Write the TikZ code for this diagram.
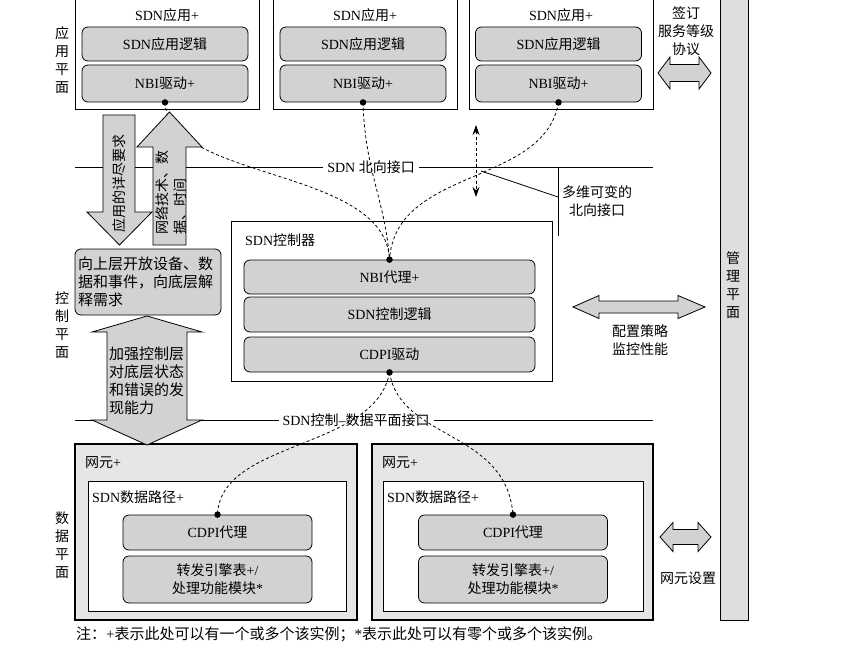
\documentclass[tikz,border=0pt]{standalone}
\usepackage{fontspec}
\setmainfont{Liberation Serif}
\newfontfamily\cjk{Noto Sans CJK SC}
\newcommand\zh[1]{{\cjk #1}}
\usetikzlibrary{arrows.meta}
\definecolor{boxgray}{HTML}{D2D2D2}
\definecolor{negray}{HTML}{E6E6E6}
\definecolor{bargray}{HTML}{DEDEDE}
\tikzset{
 ln/.style={line width=0.8pt},
 outbox/.style={draw, fill=white, line width=0.8pt, inner sep=0pt},
 inbox/.style={draw, fill=boxgray, rounded corners=6pt, line width=0.8pt, inner sep=2pt},
 nebox/.style={draw, fill=negray, line width=1.3pt, inner sep=0pt},
 bigarrow/.style={draw, fill=boxgray, line width=0.8pt, line join=miter},
 conn/.style={line width=0.8pt, dash pattern=on 3pt off 2.5pt},
 dotn/.style={circle, fill=black, inner sep=0pt, minimum size=6.5pt},
 zhf/.style={font=\cjk\fontsize{14}{18}\selectfont},
 zhg/.style={font=\cjk\fontsize{15}{18}\selectfont},
 lab/.style={fill=white, inner sep=4pt},
}
\begin{document}
\begin{tikzpicture}[x=1pt,y=-1pt, every node/.style={font=\fontsize{14}{17}\selectfont}]
\useasboundingbox (0,0) rectangle (853,650);

% interface lines
\coordinate (nl) at (75,167); \coordinate (nr) at (653,167);
\draw[ln] (nl) -- (nr);
\node[lab] (nlab) at (371,167) {SDN \zh{北向接口}};
\coordinate (sl) at (75,420); \coordinate (sr) at (653,420);
\draw[ln] (sl) -- (sr);
\node[lab] (slab) at (356,420) {SDN\zh{控制}--\zh{数据平面接口}};

% multi-dimensional NBI annotation
\coordinate (v1) at (558,167); \coordinate (v2) at (558,236);
\draw[ln] (v1) -- (v2);
\coordinate (s1) at (481,171); \coordinate (s2) at (558,197);
\draw[ln] (s1) -- (s2);
\node[zhf, align=center] (mv) at (597,201) {多维可变的\\北向接口};

% plane labels
\node[zhf, align=center] (pla) at (62,60) {应\\用\\平\\面};
\node[zhf, align=center] (plc) at (62,325) {控\\制\\平\\面};
\node[zhf, align=center] (pld) at (62,545) {数\\据\\平\\面};

% application boxes
\foreach \i/\xo/\xi in {1/167/165,2/365/363,3/561/558.5}{
  \node[outbox, minimum width=184pt, minimum height=113pt] (app\i) at (\xo,52.5) {};
  \node (ttl\i) at (\xo,15) {SDN\zh{应用}+};
  \node[inbox, minimum width=166pt, minimum height=34pt] (lg\i) at (\xi,44) {SDN\zh{应用逻辑}};
  \node[inbox, minimum width=166pt, minimum height=37pt] (nb\i) at (\xi,83.5) {NBI\zh{驱动}+};
}

% controller
\node[outbox, minimum width=321pt, minimum height=160pt] (ctrl) at (391.5,301) {};
\node[anchor=west, inner sep=0pt] (ctt) at (245,240) {SDN\zh{控制器}};
\node[inbox, minimum width=291pt, minimum height=34pt] (nbia) at (389.5,277) {NBI\zh{代理}+};
\node[inbox, minimum width=291pt, minimum height=35pt] (ctl) at (389.5,314.5) {SDN\zh{控制逻辑}};
\node[inbox, minimum width=291pt, minimum height=35pt] (cdd) at (389.5,354.5) {CDPI\zh{驱动}};

% left description box
\node[inbox, zhg, minimum width=146pt, minimum height=66pt, text width=140pt, align=left, inner sep=3pt] (desc) at (148,282) {向上层开放设备、数\\据和事件，向底层解\\释需求};

% network elements
\foreach \i/\xo/\wo/\xm/\wm/\xc in {1/216/282/217/258/217.5, 2/512.5/281/513/260/513}{
  \node[nebox, minimum width=\wo pt, minimum height=176pt] (ne\i) at (\xo,532) {};
  \node[anchor=west, inner sep=0pt] (net\i) at (\xo-\wo/2+10,463) {\zh{网元}+};
  \node[outbox, minimum width=\wm pt, minimum height=130pt] (dp\i) at (\xm,546) {};
  \node[anchor=west, inner sep=0pt] (dpt\i) at (\xm-\wm/2+4,497) {SDN\zh{数据路径}+};
  \node[inbox, minimum width=189pt, minimum height=35pt] (ca\i) at (\xc,532.5) {CDPI\zh{代理}};
  \node[inbox, zhf, minimum width=189pt, minimum height=47pt, align=center] (fw\i) at (\xc,579.5) {转发引擎表{\rmfamily +/}\\处理功能模块{\rmfamily *}};
}

% management plane
\node[draw, fill=bargray, line width=0.8pt, minimum width=28pt, minimum height=626pt, inner sep=0pt] (mgmt) at (734,307) {};
\node[zhf, align=center] (mtxt) at (733,285) {管\\理\\平\\面};

% dashed connectors
\draw[conn] (nb1.south) .. controls +(4,79) and +(-4,-93) .. (nbia.north);
\draw[conn] (nb2.south) .. controls +(2,69) and +(-4,-58) .. (nbia.north);
\draw[conn] (nb3.south) .. controls +(-14,84) and +(6,-93) .. (nbia.north);
\draw[conn] (cdd.south) .. controls +(-14,78) and +(3,-75) .. (ca1.north);
\draw[conn] (cdd.south) .. controls +(11,68) and +(-7,-85) .. (ca2.north);
\coordinate (va) at (476,125); \coordinate (vb) at (476,197);
\draw[conn, {Stealth[length=10pt,width=7pt]}-{Stealth[length=10pt,width=7pt]}] (va) -- (vb);

% big arrows
\filldraw[bigarrow] (103,115) -- (135,115) -- (135,212) -- (152,212) -- (119.5,245) -- (87,212) -- (103,212) -- cycle;
\node[zhf, rotate=90] (dtxt) at (119,183) {应用的详尽要求};
\filldraw[bigarrow] (153,245) -- (186,245) -- (186,147) -- (202,147) -- (169.5,112) -- (137,147) -- (153,147) -- cycle;
\node[zhf, rotate=90, align=left, inner sep=1pt] (utxt) at (171,192) {网络技术、数\\据、时间};
\filldraw[bigarrow] (147,316) -- (202,332) -- (187,332) -- (187,420) -- (202,420) -- (147,445) -- (92,420) -- (107,420) -- (107,332) -- (92,332) -- cycle;
\node[zhg, align=left, anchor=west, inner sep=0pt] (dtx) at (109,381) {加强控制层\\对底层状态\\和错误的发\\现能力};

% horizontal double arrows
\filldraw[bigarrow] (658,73) -- (670,57) -- (670,64.5) -- (699,64.5) -- (699,57) -- (711,73) -- (699,89) -- (699,81.5) -- (670,81.5) -- (670,89) -- cycle;
\node[zhf, align=center] (sla) at (686,31) {签订\\服务等级\\协议};
\filldraw[bigarrow] (573,307) -- (599,295.5) -- (599,301) -- (678,301) -- (678,295.5) -- (705,307) -- (678,318.5) -- (678,313) -- (599,313) -- (599,318.5) -- cycle;
\node[zhf, align=center] (cfg) at (640,340) {配置策略\\监控性能};
\filldraw[bigarrow] (660,537) -- (673,522.5) -- (673,529.5) -- (698,529.5) -- (698,522.5) -- (711,537) -- (698,551.5) -- (698,544.5) -- (673,544.5) -- (673,551.5) -- cycle;
\node[zhf] (nes) at (688,578) {网元设置};

% dots
\foreach \n in {nb1,nb2,nb3}{\node[dotn] (d\n) at (\n.south) {};}
\node[dotn] (dna) at (nbia.north) {};
\node[dotn] (dcd) at (cdd.south) {};
\node[dotn] (dc1) at (ca1.north) {};
\node[dotn] (dc2) at (ca2.north) {};

% note
\node[anchor=west, inner sep=0pt, font=\fontsize{15}{18}\selectfont] (note) at (76,634) {\zh{注：}+\zh{表示此处可以有一个或多个该实例；}*\zh{表示此处可以有零个或多个该实例。}};
\end{tikzpicture}
\end{document}
